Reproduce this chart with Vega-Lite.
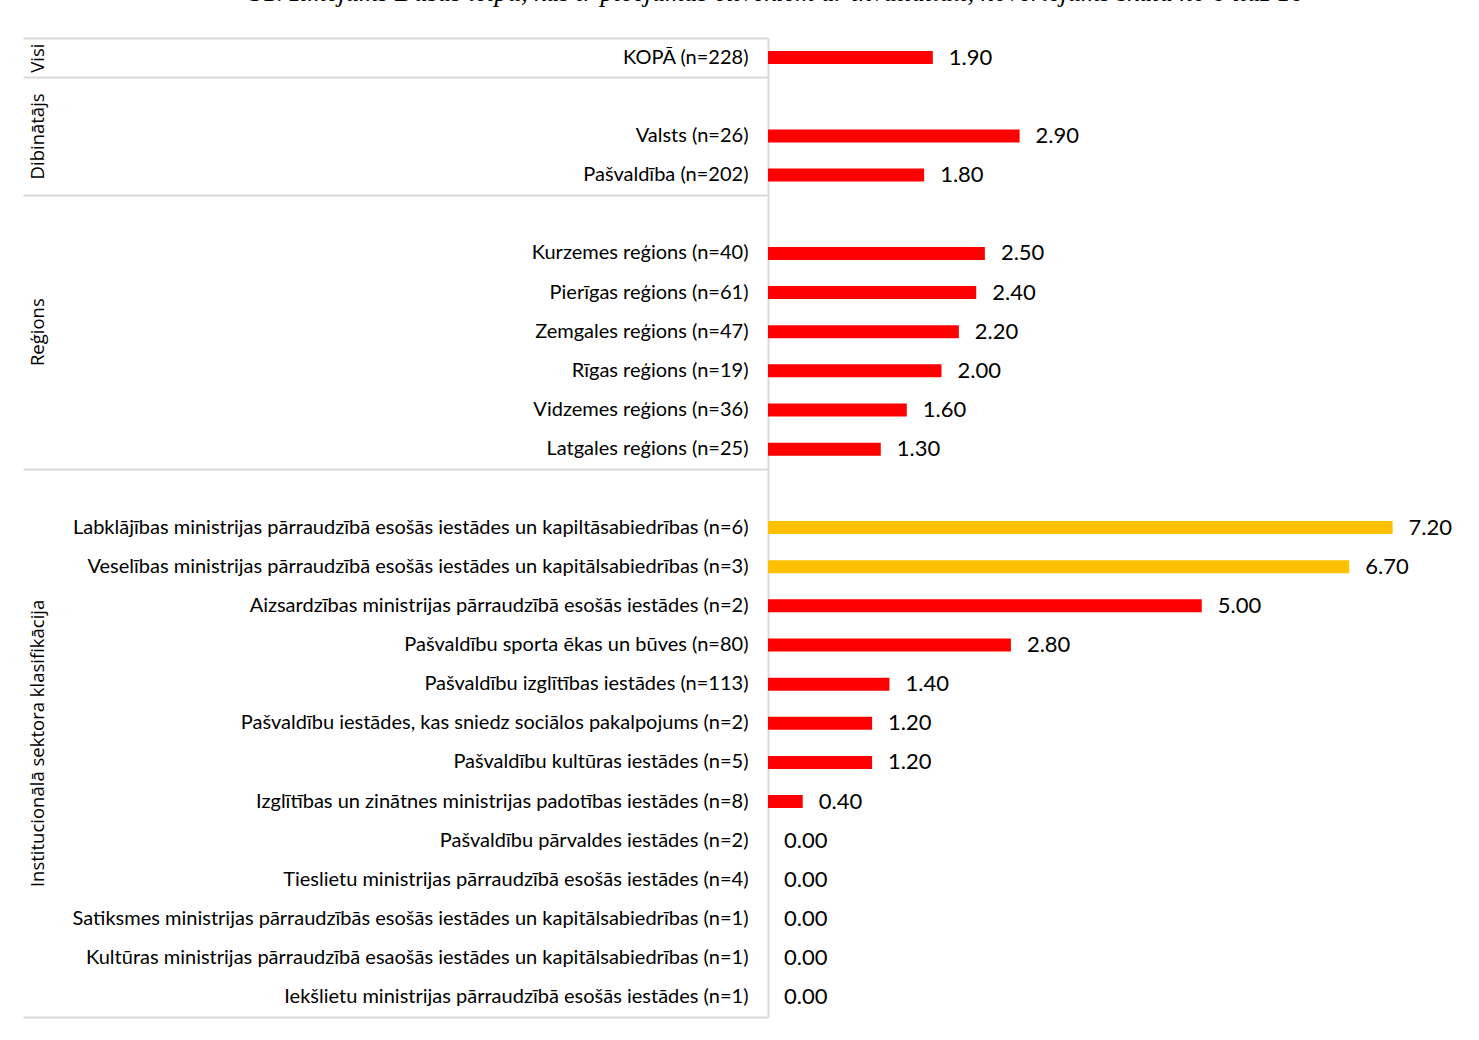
{
  "$schema": "https://vega.github.io/schema/vega-lite/v6.json",
  "autosize": {"type": "none"},
  "padding": {"left": 768, "top": 38, "right": 17, "bottom": 23},
  "width": 694,
  "height": 979,
  "background": "white",
  "config": {"view": {"stroke": null}, "font": "Lato"},
  "title": {
    "text": "31. zīmējums Dušas telpu, kas ir pieejamas cilvēkiem ar invaliditāti, novērtējums skalā no 0 līdz 10",
    "font": "Liberation Serif", "fontStyle": "italic", "fontWeight": "normal", "fontSize": 26.5, "color": "black",
    "anchor": "middle", "frame": "bounds", "offset": 31, "dx": 35
  },
  "layer": [
    {
      "data": {"values": [
        {"label": "KOPĀ (n=228)", "value": 1.90},
        {"label": "Valsts (n=26)", "value": 2.90},
        {"label": "Pašvaldība (n=202)", "value": 1.80},
        {"label": "Kurzemes reģions (n=40)", "value": 2.50},
        {"label": "Pierīgas reģions (n=61)", "value": 2.40},
        {"label": "Zemgales reģions (n=47)", "value": 2.20},
        {"label": "Rīgas reģions (n=19)", "value": 2.00},
        {"label": "Vidzemes reģions (n=36)", "value": 1.60},
        {"label": "Latgales reģions (n=25)", "value": 1.30},
        {"label": "Labklājības ministrijas pārraudzībā esošās iestādes un kapiltāsabiedrības (n=6)", "value": 7.20},
        {"label": "Veselības ministrijas pārraudzībā esošās iestādes un kapitālsabiedrības (n=3)", "value": 6.70},
        {"label": "Aizsardzības ministrijas pārraudzībā esošās  iestādes (n=2)", "value": 5.00},
        {"label": "Pašvaldību sporta ēkas un būves (n=80)", "value": 2.80},
        {"label": "Pašvaldību izglītības iestādes (n=113)", "value": 1.40},
        {"label": "Pašvaldību iestādes, kas sniedz sociālos pakalpojums (n=2)", "value": 1.20},
        {"label": "Pašvaldību kultūras iestādes (n=5)", "value": 1.20},
        {"label": "Izglītības un zinātnes ministrijas padotības iestādes (n=8)", "value": 0.40},
        {"label": "Pašvaldību pārvaldes iestādes (n=2)", "value": 0.00},
        {"label": "Tieslietu ministrijas pārraudzībā esošās iestādes (n=4)", "value": 0.00},
        {"label": "Satiksmes ministrijas pārraudzībās esošās iestādes un kapitālsabiedrības (n=1)", "value": 0.00},
        {"label": "Kultūras ministrijas pārraudzībā esaošās iestādes un kapitālsabiedrības (n=1)", "value": 0.00},
        {"label": "Iekšlietu ministrijas pārraudzībā esošās iestādes (n=1)", "value": 0.00}
      ]},
      "layer": [
        {
          "mark": {"type": "bar", "size": 13},
          "encoding": {
            "y": {
              "field": "label", "type": "nominal",
              "scale": {
                "domain": [
                  "KOPĀ (n=228)", " ", "Valsts (n=26)", "Pašvaldība (n=202)", "  ",
                  "Kurzemes reģions (n=40)", "Pierīgas reģions (n=61)", "Zemgales reģions (n=47)", "Rīgas reģions (n=19)", "Vidzemes reģions (n=36)", "Latgales reģions (n=25)", "   ",
                  "Labklājības ministrijas pārraudzībā esošās iestādes un kapiltāsabiedrības (n=6)",
                  "Veselības ministrijas pārraudzībā esošās iestādes un kapitālsabiedrības (n=3)",
                  "Aizsardzības ministrijas pārraudzībā esošās  iestādes (n=2)",
                  "Pašvaldību sporta ēkas un būves (n=80)",
                  "Pašvaldību izglītības iestādes (n=113)",
                  "Pašvaldību iestādes, kas sniedz sociālos pakalpojums (n=2)",
                  "Pašvaldību kultūras iestādes (n=5)",
                  "Izglītības un zinātnes ministrijas padotības iestādes (n=8)",
                  "Pašvaldību pārvaldes iestādes (n=2)",
                  "Tieslietu ministrijas pārraudzībā esošās iestādes (n=4)",
                  "Satiksmes ministrijas pārraudzībās esošās iestādes un kapitālsabiedrības (n=1)",
                  "Kultūras ministrijas pārraudzībā esaošās iestādes un kapitālsabiedrības (n=1)",
                  "Iekšlietu ministrijas pārraudzībā esošās iestādes (n=1)"
                ],
                "paddingInner": 0, "paddingOuter": 0, "round": false
              },
              "axis": {
                "title": null, "ticks": false, "grid": false, "labelPadding": 20,
                "labelFont": "Lato", "labelFontSize": 20, "labelColor": "black", "labelLimit": 760,
                "domainColor": "#D9D9D9", "domainWidth": 2
              }
            },
            "x": {"field": "value", "type": "quantitative", "scale": {"domain": [0, 8], "nice": false}, "axis": null},
            "color": {"condition": {"test": "datum.value >= 6", "value": "#FFC000"}, "value": "#FF0000"}
          }
        },
        {
          "mark": {"type": "text", "align": "left", "baseline": "middle", "dx": 16, "font": "Lato", "fontSize": 22, "color": "black"},
          "encoding": {
            "y": {"field": "label", "type": "nominal"},
            "x": {"field": "value", "type": "quantitative"},
            "text": {"field": "value", "type": "quantitative", "format": ".2f"}
          }
        }
      ]
    },
    {
      "data": {"values": [
        {"group": "Visi", "start": 0, "end": 1},
        {"group": "Dibinātājs", "start": 1, "end": 4},
        {"group": "Reģions", "start": 4, "end": 11},
        {"group": "Institucionālā sektora klasifikācija", "start": 11, "end": 25}
      ]},
      "mark": {"type": "rect", "opacity": 0},
      "encoding": {
        "y": {
          "field": "start", "type": "quantitative",
          "scale": {"domain": [0, 25], "reverse": true, "nice": false, "zero": false},
          "axis": {
            "orient": "left", "title": null, "grid": false, "domain": false,
            "values": [0, 0.5, 1, 2.5, 4, 7.5, 11, 18, 25],
            "labelExpr": "datum.value == 0.5 ? 'Visi' : datum.value == 2.5 ? 'Dibinātājs' : datum.value == 7.5 ? 'Reģions' : datum.value == 18 ? 'Institucionālā sektora klasifikācija' : ''",
            "tickSize": 745, "tickColor": "#D9D9D9", "tickWidth": 2,
            "tickOpacity": {"condition": {"test": "datum.value == 0 || datum.value == 1 || datum.value == 4 || datum.value == 11 || datum.value == 25", "value": 1}, "value": 0},
            "labelAngle": -90, "labelAlign": "center", "labelBaseline": "bottom", "labelPadding": -24,
            "labelFont": "Open Sans", "labelFontSize": 18.5, "labelColor": "black", "labelLimit": 0,
            "labelOverlap": false, "labelFlush": false, "labelBound": false
          }
        },
        "y2": {"field": "end"}
      }
    }
  ],
  "resolve": {"scale": {"y": "independent"}, "axis": {"y": "independent"}}
}
